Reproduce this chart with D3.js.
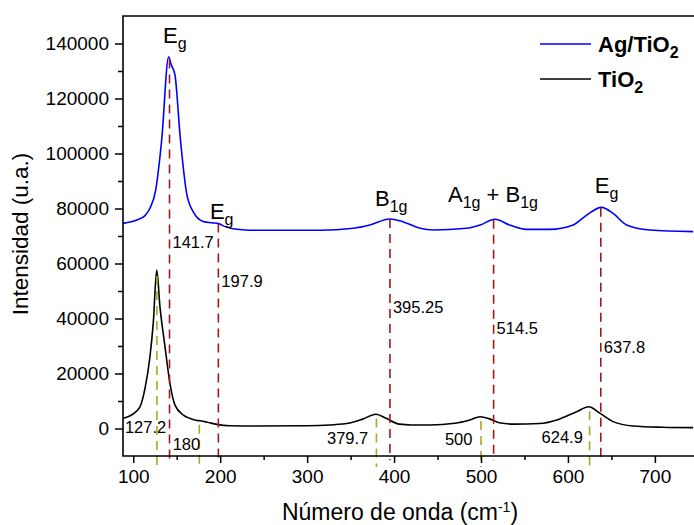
<!DOCTYPE html>
<html>
<head>
<meta charset="utf-8">
<script src="https://cdn.jsdelivr.net/npm/d3@7"></script>
<style>
body { margin: 0; background: #fff; }
svg { display: block; font-family: "Liberation Sans", Arial, sans-serif; }
</style>
</head>
<body>
<div id="chart"></div>
<script>
// Raman spectra: [wavenumber cm-1, intensity]
const agTiO2 = [
    [88.5, 74600], [104, 75800], [113.5, 77400], [119.2, 80100], [125.8, 86700],
    [132.7, 104900], [140.7, 135200], [143.4, 132500], [148, 128500], [154, 106000],
    [161.4, 85500], [169, 78800], [180.5, 75300], [190, 74800], [198, 74500],
    [205, 73500], [212, 72800], [225, 72300], [240, 72100], [315, 72100],
    [353, 72800], [372, 74000], [395, 76200], [410, 75200], [430, 72800],
    [445, 72200], [483, 72800], [499, 74000], [516, 76100], [533, 74000],
    [552, 72400], [579, 72400], [606, 74000], [621.5, 77600], [638.7, 80400],
    [652, 78200], [667.5, 74000], [694, 72200], [744, 71600]
];
const tiO2 = [
    [88.5, 3700], [98, 4900], [107.7, 7900], [113.5, 14600], [119.2, 26100],
    [123, 38300], [127, 57600], [130.7, 44300], [136.5, 29800], [142.2, 16400],
    [148, 8500], [157.5, 4900], [165, 3700], [172, 3000], [177, 2800],
    [185, 2300], [196, 1500], [211, 1000], [240, 900], [300, 1000],
    [326, 1300], [349, 2000], [364.5, 3500], [379, 5200], [391, 3700],
    [406, 1600], [420, 1300], [441, 1300], [470, 1900], [487, 3100],
    [499, 4300], [510, 3500], [521, 2100], [537, 1600], [567, 1800],
    [590, 3400], [610, 6100], [624, 7900], [637, 5500], [652, 2500],
    [675, 900], [709, 450], [744, 300]
];

// peak markers for Ag/TiO2 (red) and TiO2 (olive)
const agPeaks = [141.7, 197.9, 395.25, 514.5, 637.8];
const agPeakLabels = ['141.7', '197.9', '395.25', '514.5', '637.8'];
const agLabelY = [65600, 51600, 41900, 34400, 27600];
const tiPeaks = [127.2, 176, 379.7, 500, 624.9];
const tiPeakLabels = ['127.2', '180', '379.7', '500', '624.9'];
const tiLabelX = [90.4, 145.3, 322.8, 458.5, 569.7];
const tiLabelY = [-1750, -7800, -5800, -6000, -5400];

// Raman modes
const modeLabels = ['E_{g}', 'E_{g}', 'B_{1g}', 'A_{1g} + B_{1g}', 'E_{g}'];
const modeX = [134.2, 188.2, 378, 462, 630.9];
const modeY = [140100, 76100, 80900, 82500, 85600];

const xTicks = [100, 200, 300, 400, 500, 600, 700];
const xMinor = [150, 250, 350, 450, 550, 650];
const yTicks = [0, 20000, 40000, 60000, 80000, 100000, 120000, 140000];
const yMinor = [10000, 30000, 50000, 70000, 90000, 110000, 130000];

const seriesNames = ['Ag/TiO_{2}', 'TiO_{2}'];
const seriesColors = ['#0000ff', '#000000'];

const width = 694, height = 525;
const mLeft = 123, mRight = 694, mTop = 16, mBottom = 456;

const svg = d3.select('#chart').append('svg')
    .attr('width', width)
    .attr('height', height);

const x = d3.scaleLinear().domain([88.2, 745]).range([mLeft, mRight]);
const y = d3.scaleLinear().domain([-10000, 150000]).range([mBottom, mTop]);

// text with _{sub} and ^{sup} parts
function richText(sel, str, size, small, shift) {
    const parts = str.split(/(_\{[^}]*\}|\^\{[^}]*\})/).filter(s => s.length);
    let off = 0;
    parts.forEach(p => {
        let target = 0, txt = p, fs = size;
        if (p.startsWith('_{')) { target = shift; txt = p.slice(2, -1); fs = small; }
        else if (p.startsWith('^{')) { target = -shift * 1.4; txt = p.slice(2, -1); fs = small; }
        sel.append('tspan')
            .attr('dy', target - off)
            .attr('font-size', fs)
            .style('white-space', 'pre')
            .text(txt);
        off = target;
    });
}

function valueAt(series, v) {
    const i = d3.bisector(d => d[0]).left(series, v);
    if (i <= 0) return series[0][1];
    if (i >= series.length) return series[series.length - 1][1];
    const a = series[i - 1], b = series[i];
    return a[1] + (v - a[0]) / (b[0] - a[0]) * (b[1] - a[1]);
}

svg.append('clipPath').attr('id', 'plotClip')
    .append('rect')
    .attr('x', mLeft).attr('y', mTop)
    .attr('width', mRight - mLeft).attr('height', mBottom - mTop);

const line = d3.line()
    .x(d => x(d[0]))
    .y(d => y(d[1]))
    .curve(d3.curveMonotoneX);

const plot = svg.append('g').attr('clip-path', 'url(#plotClip)');

[agTiO2, tiO2].forEach((s, i) => {
    plot.append('path')
        .datum(s)
        .attr('d', line)
        .attr('fill', 'none')
        .attr('stroke', seriesColors[i])
        .attr('stroke-width', 1.6);
});

// dashed peak lines
svg.append('g').selectAll('line')
    .data(agPeaks)
    .enter()
    .append('line')
    .attr('x1', d => x(d)).attr('x2', d => x(d))
    .attr('y1', d => y(valueAt(agTiO2, d)))
    .attr('y2', y(-11500))
    .attr('stroke', '#a01818')
    .attr('stroke-width', 1.6)
    .attr('stroke-dasharray', '9,6');

svg.append('g').selectAll('line')
    .data(tiPeaks)
    .enter()
    .append('line')
    .attr('x1', d => x(d)).attr('x2', d => x(d))
    .attr('y1', d => y(valueAt(tiO2, d)) + 4)
    .attr('y2', y(-14000))
    .attr('stroke', '#a8a828')
    .attr('stroke-width', 1.6)
    .attr('stroke-dasharray', '9,6');

// axes
const axisFont = 19;
svg.append('g')
    .attr('transform', `translate(${mLeft},0)`)
    .call(d3.axisLeft(y).tickValues(yTicks).tickFormat(d3.format('d')).tickSize(8).tickPadding(6));
svg.append('g')
    .attr('transform', `translate(${mLeft},0)`)
    .call(d3.axisLeft(y).tickValues(yMinor).tickFormat('').tickSize(5));
svg.append('g')
    .attr('transform', `translate(0,${mBottom})`)
    .call(d3.axisBottom(x).tickValues(xTicks).tickFormat(d3.format('d')).tickSize(7).tickPadding(7));
svg.append('g')
    .attr('transform', `translate(0,${mBottom})`)
    .call(d3.axisBottom(x).tickValues(xMinor).tickFormat('').tickSize(4));

svg.selectAll('.domain').remove();
svg.selectAll('.tick line').attr('stroke', '#000').attr('stroke-width', 1.5);
svg.selectAll('.tick text')
    .attr('font-size', axisFont)
    .attr('font-family', '"Liberation Sans", Arial, sans-serif')
    .attr('fill', '#000');

// frame: left, bottom, top
svg.append('path')
    .attr('d', `M${mRight},${mTop}H${mLeft}V${mBottom}H${mRight}`)
    .attr('fill', 'none')
    .attr('stroke', '#000')
    .attr('stroke-width', 1.6);

// peak value labels
svg.append('g').selectAll('text')
    .data(agPeaks)
    .enter()
    .append('text')
    .attr('x', d => x(d) + 3)
    .attr('y', (d, i) => y(agLabelY[i]))
    .attr('font-size', 16.5)
    .text((d, i) => agPeakLabels[i]);

svg.append('g').selectAll('text')
    .data(tiPeaks)
    .enter()
    .append('text')
    .attr('x', (d, i) => x(tiLabelX[i]))
    .attr('y', (d, i) => y(tiLabelY[i]))
    .attr('font-size', 16.5)
    .text((d, i) => tiPeakLabels[i]);

// mode labels
modeLabels.forEach((m, i) => {
    const t = svg.append('text')
        .attr('x', x(modeX[i]))
        .attr('y', y(modeY[i]));
    richText(t, m, 22, 16, 6);
});

// legend
seriesNames.forEach((n, i) => {
    const ly = 44 + i * 35;
    svg.append('line')
        .attr('x1', 540).attr('x2', 591)
        .attr('y1', ly).attr('y2', ly)
        .attr('stroke', seriesColors[i])
        .attr('stroke-width', 1.6);
    const t = svg.append('text')
        .attr('x', 598)
        .attr('y', ly + 8)
        .attr('font-weight', 'bold');
    richText(t, n, 22, 16, 6);
});

// axis titles
const xt = svg.append('text')
    .attr('x', 400)
    .attr('y', 520)
    .attr('text-anchor', 'middle');
richText(xt, 'Número de onda (cm^{-1})', 23, 14, 6);

svg.append('text')
    .attr('transform', 'translate(28,234) rotate(-90)')
    .attr('text-anchor', 'middle')
    .attr('font-size', 22.5)
    .text('Intensidad (u.a.)');
</script>
</body>
</html>
